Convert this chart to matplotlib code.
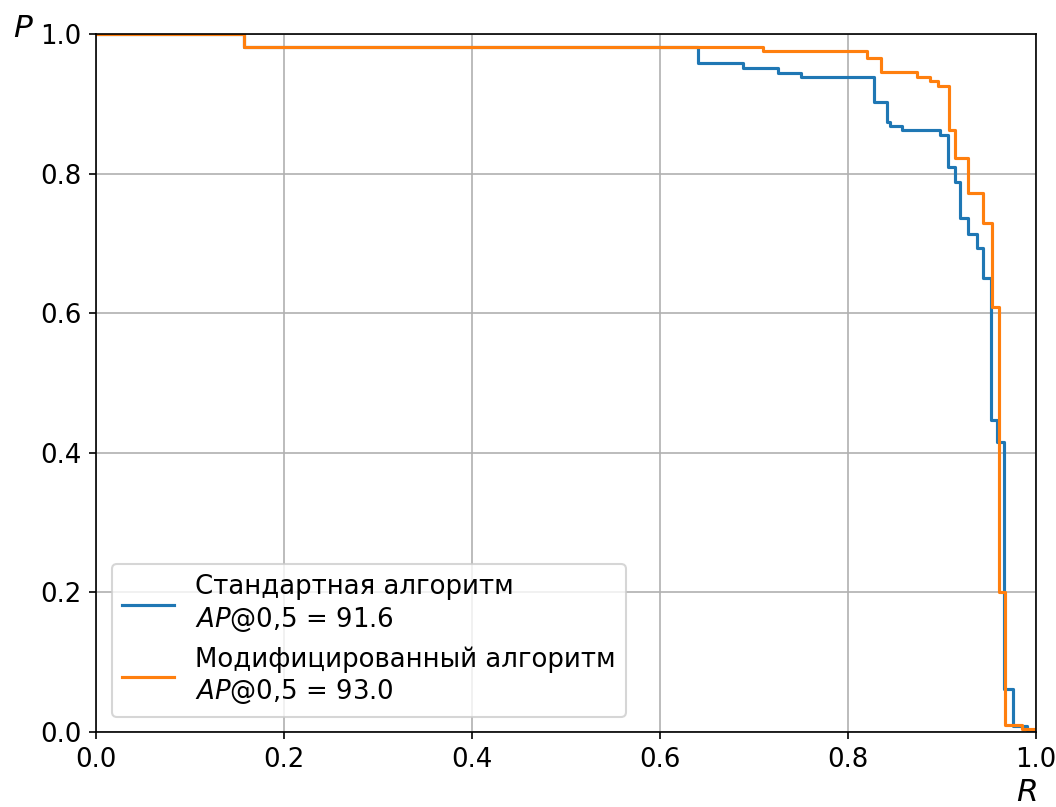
import matplotlib
matplotlib.use("Agg")
from matplotlib import pyplot as plt

# standard algorithm (recall where segment starts, precision level)
r_std = [0, 0.157, 0.640, 0.688, 0.726, 0.750, 0.828, 0.841, 0.845, 0.857, 0.898, 0.906,
         0.914, 0.919, 0.928, 0.937, 0.944, 0.952, 0.958, 0.966, 0.976, 0.99, 1.0]
p_std = [1.0, 0.982, 0.959, 0.951, 0.944, 0.939, 0.902, 0.874, 0.868, 0.862, 0.855, 0.810,
         0.788, 0.736, 0.714, 0.693, 0.650, 0.447, 0.415, 0.061, 0.008, 0.003, 0.0]

# modified algorithm
r_mod = [0, 0.157, 0.710, 0.820, 0.835, 0.873, 0.887, 0.896, 0.907, 0.914, 0.928, 0.944,
         0.953, 0.961, 0.967, 0.985, 1.0]
p_mod = [1.0, 0.982, 0.975, 0.966, 0.945, 0.939, 0.932, 0.925, 0.862, 0.822, 0.772, 0.729,
         0.609, 0.201, 0.010, 0.004, 0.0]

lbl_std = "Стандартная алгоритм\n$AP$@0,5 = 91.6"
lbl_mod = "Модифицированный алгоритм\n$AP$@0,5 = 93.0"

plt.rcParams["font.size"] = 12.5

fig = plt.figure(figsize=(10.56 / 1.5, 8.07 / 1.5), dpi=150)
ax = fig.add_axes([96 / 1056, 1 - 732 / 807, 940 / 1056, 698 / 807])

ax.step(r_std, p_std, where="post", label=lbl_std)
ax.step(r_mod, p_mod, where="post", label=lbl_mod)

ax.set_xlim(0, 1)
ax.set_ylim(0, 1)
ax.grid(True)

ax.text(-0.077, 1.008, "$P$", transform=ax.transAxes, fontsize=15, ha="center", va="center")
ax.text(0.990, -0.086, "$R$", transform=ax.transAxes, fontsize=15, ha="center", va="center")

ax.legend(loc="lower left", bbox_to_anchor=(0.003, 0.003))

fig.savefig("out.png", dpi=150)
